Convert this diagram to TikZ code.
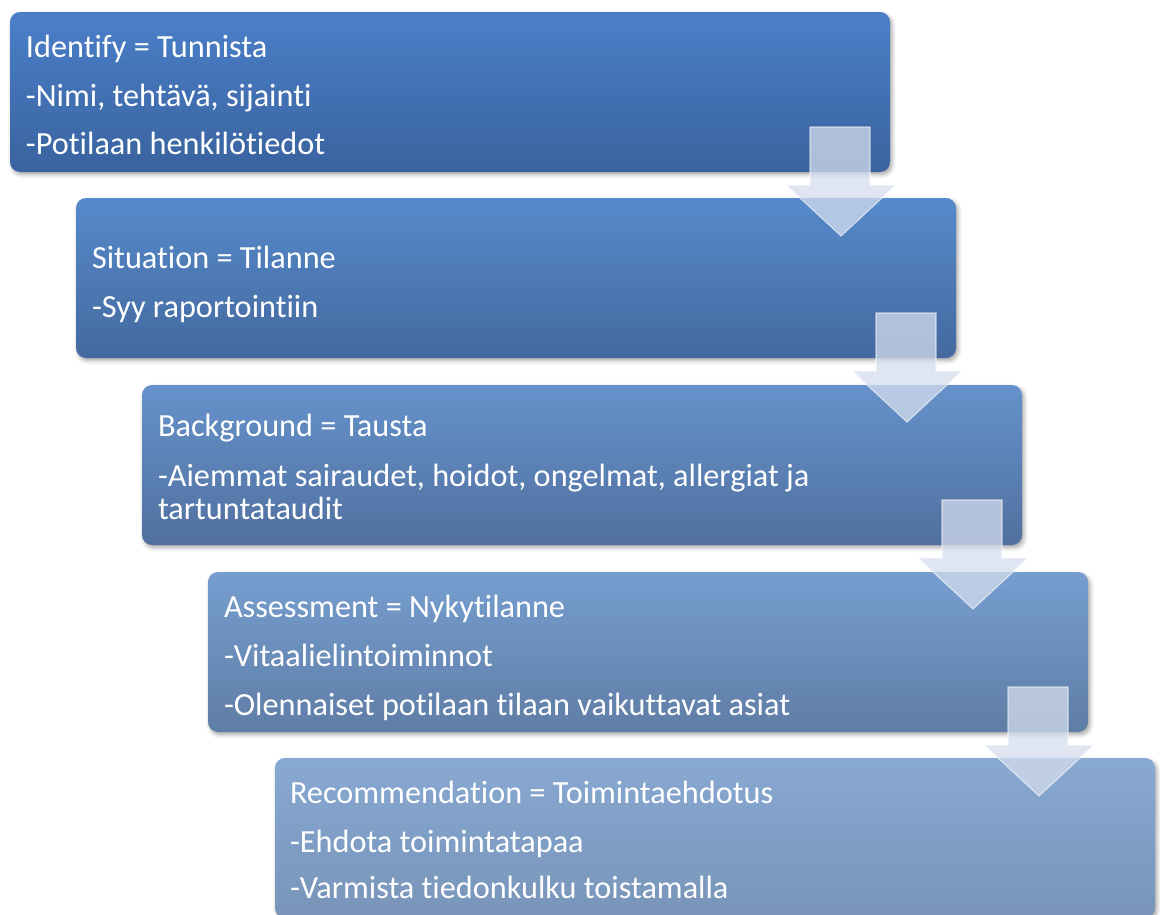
\documentclass[tikz,border=0pt]{standalone}
\usepackage{fontspec}
\setmainfont{Carlito}[Ligatures={NoCommon}]
\usetikzlibrary{shadows.blur}
\definecolor{bAt}{HTML}{4A7FC8}\definecolor{bAb}{HTML}{3A639F}
\definecolor{bBt}{HTML}{568ACB}\definecolor{bBb}{HTML}{44699F}
\definecolor{bCt}{HTML}{6592CB}\definecolor{bCb}{HTML}{51709F}
\definecolor{bDt}{HTML}{769ECF}\definecolor{bDb}{HTML}{5F7DA6}
\definecolor{bEt}{HTML}{88A9D3}\definecolor{bEb}{HTML}{7894B8}
\definecolor{arrfill}{HTML}{D4DDEE}
\tikzset{
  stagebox/.style={draw=none, rounded corners=7.5pt, anchor=north west,
    minimum width=660pt, minimum height=120pt, inner sep=0pt, outer sep=0pt,
    blur shadow={shadow xshift=1.5pt, shadow yshift=-2pt, shadow blur radius=3pt, shadow opacity=35}},
  txt/.style={anchor=base west, inner sep=0pt, outer sep=0pt, text=white,
    font=\fontsize{24.2pt}{28pt}\selectfont},
  blockarrow/.style={fill=arrfill, fill opacity=0.75, draw=white, draw opacity=0.6, line width=0.8pt, line join=miter}
}
\begin{document}
\begin{tikzpicture}[x=0.75pt,y=-0.75pt]
\useasboundingbox (0,0) rectangle (1160,914);
\node[stagebox, top color=bAt, bottom color=bAb] (b1) at (10,12) {};
\node[stagebox, top color=bBt, bottom color=bBb] (b2) at (76,198) {};
\node[stagebox, top color=bCt, bottom color=bCb] (b3) at (142,385) {};
\node[stagebox, top color=bDt, bottom color=bDb] (b4) at (208,572) {};
\node[stagebox, top color=bEt, bottom color=bEb] (b5) at (275,758) {};

\node[txt] (t11) at (26,57) {Identify = Tunnista};
\node[txt] (t12) at (26,106) {-Nimi, tehtävä, sijainti};
\node[txt] (t13) at (26,154) {-Potilaan henkilötiedot};

\node[txt] (t21) at (92,268) {Situation = Tilanne};
\node[txt] (t22) at (92,317) {-Syy raportointiin};

\node[txt] (t31) at (158,436) {Background = Tausta};
\node[txt] (t32) at (158,486) {-Aiemmat sairaudet, hoidot, ongelmat, allergiat ja};
\node[txt] (t33) at (158,519) {tartuntataudit};

\node[txt] (t41) at (224,617) {Assessment = Nykytilanne};
\node[txt] (t42) at (224,666) {-Vitaalielintoiminnot};
\node[txt] (t43) at (224,715) {-Olennaiset potilaan tilaan vaikuttavat asiat};

\node[txt] (t51) at (290,803) {Recommendation = Toimintaehdotus};
\node[txt] (t52) at (290,852) {-Ehdota toimintatapaa};
\node[txt] (t53) at (290,898) {-Varmista tiedonkulku toistamalla};

\foreach \i in {1,2,3,4}{
  \begin{scope}[shift={(b\i.south east)}]
    \draw[blockarrow] (-80,-45) -- (-20,-45) -- (-20,13) -- (6,13) -- (-49,64)
      -- (-104,13) -- (-80,13) -- cycle;
  \end{scope}
}
\end{tikzpicture}
\end{document}
